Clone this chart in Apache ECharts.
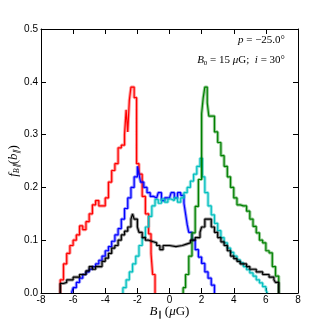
<!DOCTYPE html>
<html>
<head>
<meta charset="UTF-8">
<title>B parallel distribution</title>
<script src="https://cdn.jsdelivr.net/npm/echarts@6/dist/echarts.min.js"></script>
<style>
	html, body { margin: 0; padding: 0; background: #fff; }
	#chart { width: 331px; height: 327px; }
</style>
</head>
<body>
<div id="chart"></div>
<script>
// histogram edges (left edge of each bin) and heights
var redX = [-6.8,-6.8,-6.6,-6.4,-6.2,-6.0,-5.8,-5.6,-5.4,-5.2,-5.0,-4.8,-4.6,-4.4,-4.2,-4.0,-3.8,-3.6,-3.4,-3.2,-3.0,-2.8,-2.7,-2.6,-2.5,-2.4,-2.2,-2.05,-1.9,-1.7,-1.5,-1.3,-1.15,-1.05,-0.9];
var redY = [0,0.025,0.055,0.075,0.09,0.1,0.11,0.127,0.12,0.135,0.15,0.167,0.175,0.165,0.165,0.18,0.21,0.232,0.245,0.275,0.28,0.30,0.347,0.305,0.365,0.39,0.37,0.245,0.225,0.183,0.15,0.112,0.075,0.035,0];

var blueX = [-6.1,-6.0,-5.8,-5.6,-5.4,-5.2,-5.0,-4.8,-4.6,-4.4,-4.2,-4.0,-3.8,-3.6,-3.4,-3.2,-3.0,-2.8,-2.6,-2.4,-2.2,-2.0,-1.9,-1.8,-1.6,-1.4,-1.2,-1.0,-0.8,-0.7,-0.5,-0.3,0.0,0.1,0.3,0.5,0.7,0.9,1.0,1.1,1.2,1.4,1.6,1.8,2.0,2.2,2.4,2.6,2.8];
var blueY = [0,0.01,0.02,0.028,0.035,0.04,0.045,0.05,0.055,0.062,0.07,0.08,0.088,0.098,0.11,0.122,0.14,0.16,0.18,0.2,0.22,0.24,0.225,0.21,0.2,0.19,0.183,0.18,0.18,0.19,0.175,0.18,0.178,0.19,0.18,0.19,0.185,0.17,0.15,0.13,0.115,0.1,0.082,0.068,0.056,0.04,0.028,0.015,0];

var cyanX = [-2.9,-2.9,-2.7,-2.5,-2.3,-2.1,-1.9,-1.7,-1.5,-1.3,-1.1,-0.9,-0.7,-0.5,-0.3,-0.1,0.1,0.3,0.5,0.7,0.9,1.1,1.3,1.5,1.7,1.9,2.05,2.2,2.4,2.6,2.8,3.0,3.2,3.4,3.6,3.8,4.0,4.2,4.4,4.6,4.8,5.0,5.2,5.4,5.6,5.8,6.0,6.1];
var cyanY = [0,0.01,0.025,0.04,0.055,0.07,0.09,0.105,0.125,0.145,0.165,0.177,0.17,0.178,0.172,0.178,0.175,0.18,0.172,0.18,0.19,0.2,0.212,0.225,0.24,0.255,0.22,0.19,0.165,0.148,0.132,0.118,0.105,0.095,0.085,0.077,0.07,0.063,0.057,0.05,0.044,0.038,0.032,0.025,0.019,0.012,0.005,0];

var greenX = [0.85,0.85,1.0,1.2,1.4,1.6,1.8,2.0,2.1,2.2,2.35,2.45,2.6,2.8,3.0,3.2,3.4,3.6,3.8,4.0,4.2,4.4,4.6,4.8,5.0,5.2,5.4,5.6,5.8,6.0,6.2,6.4,6.6,6.8];
var greenY = [0,0.01,0.035,0.07,0.114,0.164,0.215,0.34,0.37,0.39,0.36,0.335,0.335,0.305,0.285,0.26,0.24,0.22,0.2,0.18,0.167,0.165,0.165,0.155,0.14,0.126,0.114,0.1,0.095,0.08,0.076,0.05,0.032,0];

var blackX = [-6.8,-6.8,-6.6,-6.4,-6.0,-5.6,-5.2,-5.0,-4.8,-4.6,-4.2,-4.0,-3.8,-3.6,-3.4,-3.2,-3.0,-2.8,-2.6,-2.4,-2.3,-2.2,-2.0,-1.9,-1.7,-1.5,-1.3,-1.0,-0.8,-0.6,-0.4,0.0,0.4,0.8,1.0,1.3,1.6,1.9,2.0,2.2,2.4,2.6,2.8,3.0,3.2,3.4,3.6,3.8,4.0,4.2,4.4,4.8,5.0,5.4,5.8,6.2,6.5,6.6,6.8];
var blackY = [0,0.018,0.02,0.025,0.03,0.035,0.042,0.05,0.045,0.05,0.06,0.066,0.075,0.085,0.09,0.1,0.11,0.117,0.125,0.14,0.15,0.14,0.125,0.115,0.105,0.1,0.097,0.095,0.09,0.082,0.09,0.088,0.09,0.092,0.095,0.1,0.105,0.115,0.125,0.14,0.14,0.125,0.115,0.105,0.097,0.09,0.08,0.07,0.065,0.06,0.055,0.05,0.045,0.04,0.035,0.03,0.025,0.02,0];

var xTicks = [-8, -6, -4, -2, 0, 2, 4, 6, 8];
var yTicks = [0.0, 0.1, 0.2, 0.3, 0.4, 0.5];

function pairs(xs, ys) {
	var out = [];
	for (var i = 0; i < xs.length; i++) out.push([xs[i], ys[i]]);
	return out;
}

function hist(xs, ys, color) {
	var d = pairs(xs, ys);
	// wide pale copy underneath, thin dark line on top
	return [
		{ type: 'line', step: 'end', data: d, symbol: 'none', silent: true,
			lineStyle: { color: color, width: 3.2, opacity: 0.4 } },
		{ type: 'line', step: 'end', data: d, symbol: 'none', silent: true,
			lineStyle: { color: color, width: 1.2 } }
	];
}

var chart = echarts.init(document.getElementById('chart'));
var tickFont = { fontFamily: 'Liberation Sans', fontSize: 10, color: '#000' };
var axLine = { show: true, onZero: false, lineStyle: { color: '#000', width: 1 } };
var tick = { show: true, inside: true, length: 5, lineStyle: { color: '#000' } };

var series = [].concat(
	hist(redX, redY, '#ff0000'),
	hist(blueX, blueY, '#0000ff'),
	hist(cyanX, cyanY, '#00bfbf'),
	hist(greenX, greenY, '#008000'),
	hist(blackX, blackY, '#000000')
);

chart.setOption({
	animation: false,
	backgroundColor: '#fff',
	grid: { left: 41, right: 33, top: 29, bottom: 34, containLabel: false, outerBoundsMode: 'none' },
	xAxis: [
		{ type: 'value', min: xTicks[0], max: xTicks[xTicks.length - 1], interval: 2,
			axisLine: axLine, axisTick: tick, splitLine: { show: false },
			axisLabel: Object.assign({ margin: 2 }, tickFont),
			name: '{i|B}{s|∥}{n| (}{i|μ}{n|G)}', nameLocation: 'middle', nameGap: 12, nameMoveOverlap: false,
			nameTextStyle: { rich: {
				i: { fontFamily: 'Liberation Serif', fontStyle: 'italic', fontSize: 13, color: '#000' },
				s: { fontFamily: 'Liberation Serif', fontSize: 8, color: '#000', verticalAlign: 'bottom', padding: [6, 0, 0, 0] },
				n: { fontFamily: 'Liberation Serif', fontSize: 13, color: '#000' }
			} } },
		{ type: 'value', position: 'top', min: xTicks[0], max: xTicks[xTicks.length - 1], interval: 2,
			axisLine: axLine, axisTick: tick, axisLabel: { show: false }, splitLine: { show: false } }
	],
	yAxis: [
		{ type: 'value', min: yTicks[0], max: yTicks[yTicks.length - 1], interval: 0.1,
			axisLine: axLine, axisTick: tick, splitLine: { show: false },
			axisLabel: Object.assign({ margin: 3, formatter: function (v) { return v.toFixed(1); } }, tickFont),
			name: '{i|f}{s|B∥}{n|(}{i|b}{s|∥}{n|)}', nameLocation: 'middle', nameGap: 20, nameMoveOverlap: false,
			nameTextStyle: { rich: {
				i: { fontFamily: 'Liberation Serif', fontStyle: 'italic', fontSize: 13, color: '#000' },
				s: { fontFamily: 'Liberation Serif', fontStyle: 'italic', fontSize: 8, color: '#000', padding: [6, 0, 0, 0] },
				n: { fontFamily: 'Liberation Serif', fontSize: 13, color: '#000' }
			} } },
		{ type: 'value', position: 'right', min: yTicks[0], max: yTicks[yTicks.length - 1], interval: 0.1,
			axisLine: axLine, axisTick: tick, axisLabel: { show: false }, splitLine: { show: false } }
	],
	graphic: [
		{ type: 'text', right: 46, top: 35, style: {
			text: '{i|p} = −25.0°', font: '11px "Liberation Serif"', fill: '#000',
			rich: { i: { fontStyle: 'italic', fontFamily: 'Liberation Serif', fontSize: 11 } } } },
		{ type: 'text', right: 46, top: 55, style: {
			text: '{i|B}{s|0} = 15 {i|μ}G;  {i|i} = 30°', font: '11px "Liberation Serif"', fill: '#000',
			rich: { i: { fontStyle: 'italic', fontFamily: 'Liberation Serif', fontSize: 11 },
				s: { fontFamily: 'Liberation Serif', fontSize: 7, padding: [5, 0, 0, 0] } } } }
	],
	series: series
});
</script>
</body>
</html>
